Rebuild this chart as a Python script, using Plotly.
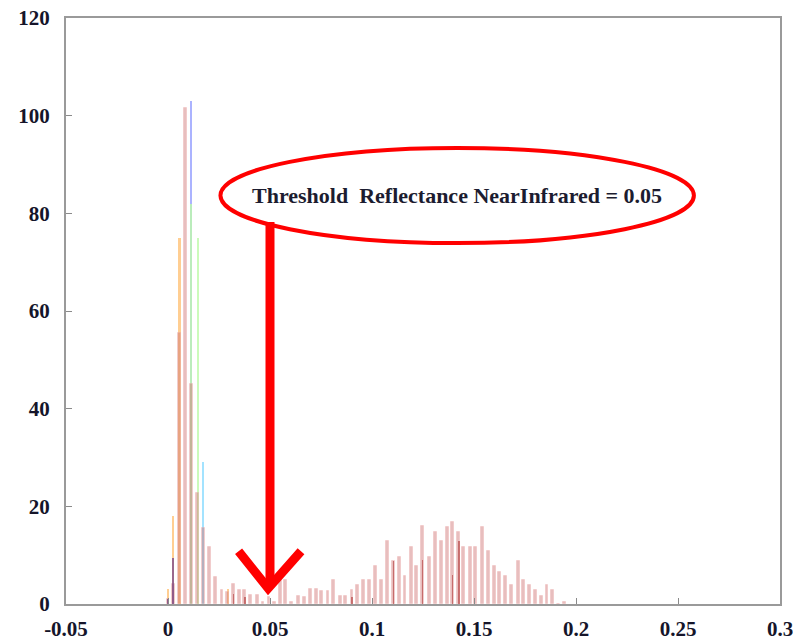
import plotly.graph_objects as go

# bin centres (reflectance, near infrared)
bins = [0.000, 0.0026, 0.0056, 0.0085, 0.0114, 0.0146, 0.0173, 0.0202, 0.0232, 0.0265,
        0.0293, 0.0321, 0.0351, 0.0377, 0.0405, 0.0438, 0.0466, 0.0495, 0.0523, 0.0553,
        0.0578, 0.0607, 0.0639, 0.0668, 0.0698, 0.0726, 0.0754, 0.0784, 0.0811, 0.0844,
        0.0871, 0.0902, 0.0927, 0.0960, 0.0989, 0.1017, 0.1047, 0.1077, 0.1105, 0.1134,
        0.1162, 0.1192, 0.1220, 0.1249, 0.1280, 0.1310, 0.1340, 0.1368, 0.1395, 0.1426,
        0.1450, 0.1483, 0.1508, 0.1541, 0.1569, 0.1599, 0.1626, 0.1656, 0.1685, 0.1717,
        0.1743, 0.1771, 0.1801, 0.1832, 0.1858, 0.1886, 0.1916, 0.1944]

red_counts = [1, 4, 55.5, 101.6, 45, 22.7, 15.6, 11.7, 5.6, 2.9,
              2.5, 4, 2.9, 2.9, 1.8, 1.8, 0.5, 1.4, 0.5, 4.8,
              4.9, 0.5, 1.6, 1.5, 3, 3, 2.7, 2.7, 4.9, 1.6,
              1.6, 2.8, 3.9, 4.9, 4.9, 7.8, 4.9, 12.8, 8.8, 9.7,
              5.7, 11.7, 7.8, 16, 9.7, 14.8, 12.8, 15.8, 16.8, 14.8,
              11.7, 11.7, 11.7, 15.8, 10.9, 7.8, 6.6, 5.7, 3.9, 8.8,
              4.9, 3.9, 2.9, 1.6, 3.9, 2.9, 0, 0.5]

darkred_counts = [0, 0, 0, 0, 0, 0, 0, 0, 0, 0,
                  0, 2, 0, 1.5, 0, 0, 0, 0, 0, 0,
                  0, 0, 0, 0, 0, 0, 0, 0, 0, 0,
                  0, 1.5, 0, 0, 0, 0, 0, 0, 8.8, 0,
                  0, 0, 0, 9, 0, 0, 0, 0, 6, 12.8,
                  0, 0, 0, 0, 0, 0, 0, 0, 0, 0,
                  0, 0, 0, 0, 0, 0, 0, 0]

orange_counts = {0: 3, 1: 18, 2: 75, 10: 3}
purple_counts = {0: 1, 1: 9.5}
blue_counts = {4: 103}
green_counts = {4: 82, 5: 75}
cyan_counts = {6: 29}

x_tickvals = [-0.05, 0, 0.05, 0.1, 0.15, 0.2, 0.25, 0.3]
x_ticktext = ["-0.05", "0", "0.05", "0.1", "0.15", "0.2", "0.25", "0.3"]
y_tickvals = [0, 20, 40, 60, 80, 100, 120]
y_ticktext = ["0", "20", "40", "60", "80", "100", "120"]

threshold = 0.05
label = "Threshold\u00a0\u00a0Reflectance NearInfrared = 0.05"


def full(d):
    return [d.get(i, 0) for i in range(len(bins))]


fig = go.Figure()

fig.add_trace(go.Bar(x=bins, y=full(orange_counts), width=0.0011,
                     marker=dict(color="rgba(255,190,110,0.75)", line_width=0)))
fig.add_trace(go.Bar(x=bins, y=full(blue_counts), width=0.0009,
                     marker=dict(color="rgba(150,160,255,0.8)", line_width=0)))
fig.add_trace(go.Bar(x=bins, y=full(green_counts), width=0.0011,
                     marker=dict(color="rgba(190,250,170,0.8)", line_width=0)))
fig.add_trace(go.Bar(x=bins, y=full(cyan_counts), width=0.0011,
                     marker=dict(color="rgba(140,220,255,0.8)", line_width=0)))
fig.add_trace(go.Bar(x=bins, y=red_counts, width=0.0014,
                     marker=dict(color="rgba(205,110,110,0.45)",
                                 line=dict(color="rgba(235,170,170,0.35)", width=1))))
fig.add_trace(go.Bar(x=bins, y=darkred_counts, width=0.0006,
                     marker=dict(color="rgba(170,40,40,0.55)", line_width=0)))
fig.add_trace(go.Bar(x=bins, y=full(purple_counts), width=0.0011,
                     marker=dict(color="rgba(110,60,140,0.7)", line_width=0)))

red = "#ff0000"
# ellipse around the label
fig.add_shape(type="circle", xref="x", yref="y", x0=0.0257, x1=0.2578, y0=73.9, y1=93.4,
              line=dict(color=red, width=4))
# arrow shaft
fig.add_shape(type="line", xref="x", yref="y", x0=threshold, x1=threshold, y0=78.2, y1=4.5,
              line=dict(color=red, width=9))
# arrow head
fig.add_shape(type="path", xref="x", yref="y",
              path="M 0.0346 10.8 L 0.0491 3.2 L 0.0652 10.8",
              line=dict(color=red, width=9))

fig.add_annotation(x=0.1418, y=83.6, xref="x", yref="y", text=label, showarrow=False,
                   font=dict(family="Liberation Serif", size=22, color="#1c1c30", weight="bold"))

axis_common = dict(showgrid=False, zeroline=False, showline=True, linecolor="#9a9a9a",
                   linewidth=2, mirror=True, ticks="inside", ticklen=6, tickcolor="#8a8a8a",
                   tickwidth=1, automargin=False, ticklabeloverflow="allow",
                   tickfont=dict(family="Liberation Serif", size=21, color="#15152a", weight="bold"))

fig.update_xaxes(range=[-0.05, 0.3], tickvals=x_tickvals, ticktext=x_ticktext,
                 ticklabelstandoff=5, **axis_common)
fig.update_yaxes(range=[0, 120], tickvals=y_tickvals, ticktext=y_ticktext,
                 ticklabelstandoff=10, **axis_common)

fig.update_layout(width=793, height=644, barmode="overlay", bargap=0, showlegend=False,
                  plot_bgcolor="white", paper_bgcolor="white",
                  margin=dict(l=66, r=13, t=18, b=40))

fig.write_html("out.html", config={"displayModeBar": False},
               post_script="document.body.style.margin='0';document.body.style.overflow='hidden';")
